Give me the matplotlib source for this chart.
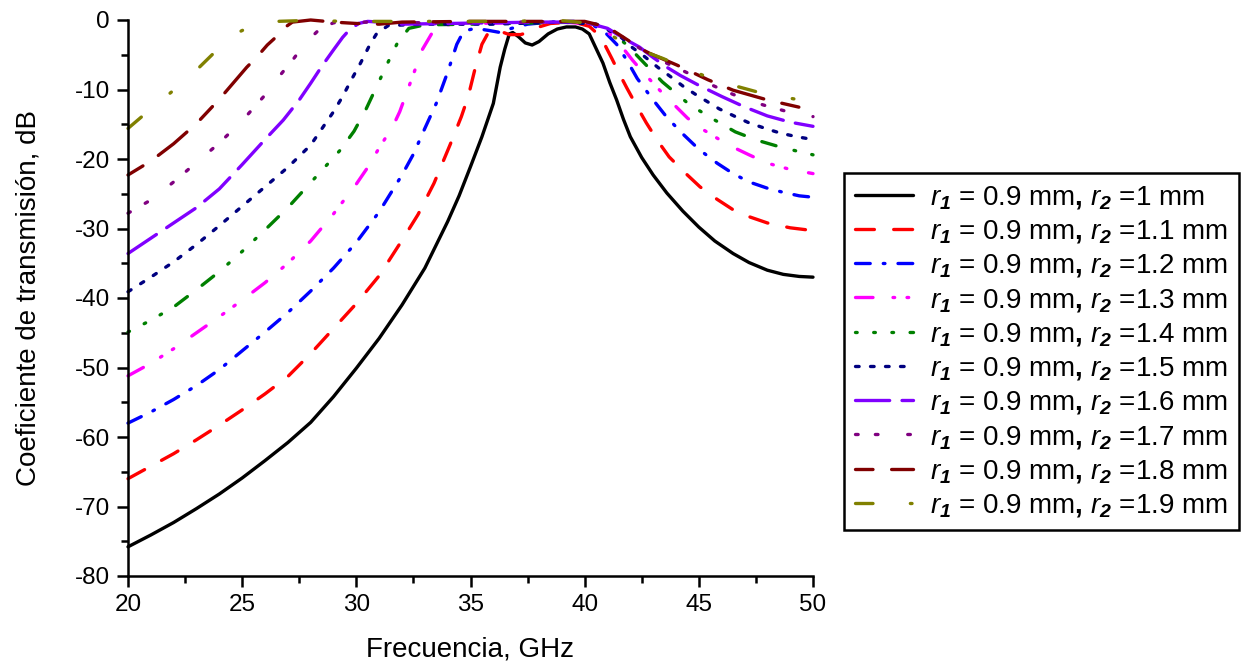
import matplotlib
matplotlib.use("Agg")
import matplotlib.pyplot as plt
from matplotlib.ticker import MultipleLocator

plt.rcParams['font.family'] = ['Liberation Sans', 'DejaVu Sans']
plt.rcParams['mathtext.fontset'] = 'custom'
plt.rcParams['mathtext.rm'] = 'Liberation Sans'
plt.rcParams['mathtext.it'] = 'Liberation Sans:italic'
plt.rcParams['mathtext.bf'] = 'Liberation Sans:bold'
plt.rcParams['mathtext.bfit'] = 'Liberation Sans:bold:italic'
plt.rcParams['axes.unicode_minus'] = False
plt.rcParams['lines.scale_dashes'] = False

# Transmission curves, one per r2 value (r1 = 0.9 mm)
r2_values = ["1", "1.1", "1.2", "1.3", "1.4", "1.5", "1.6", "1.7", "1.8", "1.9"]

f_r2_10 = [20, 21, 22, 23, 24, 25, 26, 27, 28, 29, 30, 31, 32, 33, 34, 34.5, 35, 35.5, 36,
           36.3, 36.5, 36.7, 36.85, 37.1, 37.4, 37.7, 38.0, 38.4, 38.8, 39.2, 39.6, 39.9, 40.2, 40.4,
           40.6, 40.8, 41.1, 41.4, 41.7, 42, 42.5, 43, 43.6, 44.3, 45, 45.7, 46.5, 47.2, 48, 48.7, 49.4, 50]
s_r2_10 = [-75.8, -74.1, -72.3, -70.3, -68.2, -65.9, -63.4, -60.8, -57.9, -54.2, -50.1, -45.8,
           -41.0, -35.7, -29.0, -25.3, -21.1, -16.8, -12.0, -6.8, -4.2, -2.0, -1.8, -2.4, -3.3,
           -3.6, -3.1, -2.0, -1.3, -1.0, -1.0, -1.3, -2.0, -3.4, -4.8, -6.2, -9.0, -11.5, -14.3, -16.8,
           -19.8, -22.3, -24.9, -27.5, -29.8, -31.8, -33.6, -34.9, -36.0, -36.6, -36.9, -37.0]

f_r2_11 = [20, 21, 22, 23, 24, 25, 26, 27, 28, 29, 30, 31, 32, 32.7, 33.4, 34.1, 34.6, 34.9, 35.2, 35.5,
           35.8, 36.2, 36.7, 37.2, 37.6, 38.0, 38.5, 39.5, 40.2, 40.7, 41.2, 41.5, 41.85, 42.3, 42.7,
           43.2, 43.7, 44.4, 45.05, 45.8, 46.5, 47.2, 48, 49, 50]
s_r2_11 = [-66.0, -64.2, -62.4, -60.4, -58.3, -56.1, -53.8, -51.3, -48.0, -44.4, -40.8, -36.8, -31.7,
           -28.0, -23.5, -18.0, -13.9, -11.0, -7.0, -3.5, -1.7, -1.5, -2.1, -2.1, -1.7, -1.0, -0.5,
           -0.3, -0.9, -2.4, -5.6, -7.6, -9.8, -12.5, -14.8, -17.4, -19.7, -22.0, -24.0, -25.8, -27.3,
           -28.3, -29.2, -29.9, -30.3]

f_r2_12 = [20, 21, 22, 23, 24, 25, 26, 27, 28, 29, 30, 31, 32, 32.5, 33, 33.5, 34, 34.4, 34.7, 35.2, 35.8,
           36.3, 36.8, 37.5, 38.5, 39.5, 40.3, 40.9, 41.4, 41.85, 42.3, 42.95, 43.6, 44.3, 45, 45.8,
           46.5, 47.2, 48, 48.7, 49.4, 50]
s_r2_12 = [-58.0, -56.4, -54.6, -52.6, -50.3, -47.6, -44.9, -42.1, -39.0, -35.7, -32.0, -27.6, -22.3,
           -19.3, -15.6, -12.0, -7.5, -3.5, -1.6, -1.2, -1.5, -1.8, -1.2, -0.6, -0.3, -0.2, -0.6, -1.8,
           -3.5, -5.8, -8.4, -11.3, -14.0, -16.4, -18.6, -20.6, -22.1, -23.3, -24.2, -24.8, -25.3, -25.5]

f_r2_13 = [20, 21, 22, 23, 24, 25, 26, 27, 28, 29, 30, 30.5, 31, 31.6, 31.9, 32.2, 32.5, 32.9, 33.4,
           33.9, 35, 37, 39, 40.5, 41.1, 41.5, 42.1, 42.55, 43.4, 44.5, 45.05, 45.8, 46.5, 47.2, 48,
           49, 50]
s_r2_13 = [-51.2, -49.4, -47.3, -45.0, -42.7, -40.3, -37.8, -35.0, -31.8, -27.9, -23.6, -21.2, -18.4,
           -15.3, -13.2, -10.5, -7.8, -4.2, -1.4, -0.7, -0.5, -0.4, -0.3, -0.6, -2.0, -3.3, -5.8, -7.5,
           -10.5, -14.1, -15.5, -17.0, -18.3, -19.4, -20.6, -21.5, -22.1]

f_r2_14 = [20, 21, 22, 23, 24, 25, 26, 27, 28, 29, 29.3, 29.9, 30.4, 31, 31.4, 31.8, 32.3, 33, 35, 38,
           40, 41, 41.85, 42.55, 43.4, 44.6, 45.7, 46.6, 47.55, 48.7, 50]
s_r2_14 = [-44.9, -43.2, -41.3, -38.8, -36.2, -33.3, -30.2, -27.0, -23.4, -19.8, -18.7, -16.0, -13.0,
           -8.8, -6.0, -3.3, -1.2, -0.7, -0.6, -0.4, -0.3, -1.2, -3.6, -6.0, -8.9, -12.2, -14.4, -16.1,
           -17.3, -18.4, -19.4]

f_r2_15 = [20, 21, 22, 23, 24, 25, 26, 27, 28, 29, 29.4, 29.8, 30.2, 30.6, 30.9, 31.4, 33, 36, 39,
           40.5, 41.5, 42.1, 42.6, 43.2, 43.7, 44.3, 44.9, 45.9, 46.6, 47.2, 48, 48.6, 49.3, 50]
s_r2_15 = [-39.1, -37.0, -34.8, -32.3, -29.6, -26.8, -24.0, -21.2, -18.0, -13.2, -11.0, -8.5, -6.1,
           -3.5, -1.9, -0.8, -0.6, -0.6, -0.3, -0.6, -2.2, -4.0, -5.2, -6.8, -8.0, -9.5, -10.8, -12.8,
           -13.9, -14.8, -15.7, -16.3, -16.8, -17.2]

f_r2_16 = [20, 21, 22, 23, 24, 25, 26, 26.8, 27.5, 28, 28.5, 29, 29.4, 29.7, 30.1, 30.5, 31, 32, 34,
           36, 38, 40, 41, 41.85, 42.4, 43, 43.6, 44.2, 45, 46, 47, 48, 49, 50]
s_r2_16 = [-33.6, -31.4, -29.2, -27.0, -24.3, -20.8, -17.2, -14.4, -11.5, -9.1, -6.6, -4.3, -2.5, -1.4,
           -0.5, -0.2, -0.3, -0.6, -0.5, -0.4, -0.3, -0.3, -1.2, -2.9, -3.9, -5.4, -6.8, -8.0, -9.4,
           -11.0, -12.5, -13.8, -14.7, -15.3]

f_r2_17 = [20, 21, 22, 23, 24, 25, 26, 26.5, 27.2, 27.8, 28.4, 29, 30, 33, 36, 40, 41, 42, 43, 44.5,
           45.2, 46.2, 47.1, 48, 48.9, 50]
s_r2_17 = [-27.8, -25.9, -23.3, -20.5, -17.7, -14.5, -10.8, -8.6, -5.8, -3.2, -1.3, -0.4, -0.3, -0.4,
           -0.3, -0.3, -1.0, -3.2, -5.3, -7.6, -8.8, -10.3, -11.5, -12.4, -13.2, -13.9]

f_r2_18 = [20, 21, 22, 23, 24, 24.6, 25.2, 25.65, 26.1, 26.5, 26.9, 27.2, 28, 29, 30, 31, 32, 35, 38,
           40, 41, 42.55, 42.85, 44.05, 45.4, 46.5, 48, 49.6, 50]
s_r2_18 = [-22.3, -20.3, -17.8, -14.9, -11.4, -9.1, -6.8, -5.3, -3.6, -2.4, -1.0, -0.3, 0.0, -0.3,
           -0.5, -0.6, -0.3, -0.2, -0.2, -0.2, -1.0, -4.3, -4.8, -6.5, -8.6, -10.1, -11.5, -12.7, -12.9]

f_r2_19 = [20, 21, 22, 23, 23.9, 24.7, 25.5, 26.5, 27.5, 30, 33, 36, 39, 40, 40.7, 41.7, 42.5, 43.4,
           44.5, 45.5, 46.5, 47.5, 48.7, 50]
s_r2_19 = [-15.6, -12.8, -10.1, -7.2, -4.3, -2.0, -0.7, -0.2, -0.1, -0.2, -0.2, -0.2, -0.1, -0.4, -1.4,
           -3.2, -4.4, -5.5, -7.0, -8.4, -9.4, -10.3, -11.1, -11.8]

freqs = [f_r2_10, f_r2_11, f_r2_12, f_r2_13, f_r2_14, f_r2_15, f_r2_16, f_r2_17, f_r2_18, f_r2_19]
s21 = [s_r2_10, s_r2_11, s_r2_12, s_r2_13, s_r2_14, s_r2_15, s_r2_16, s_r2_17, s_r2_18, s_r2_19]

colors = ['#000000', '#ff0000', '#0000ff', '#ff00ff', '#008000',
          '#000080', '#8000ff', '#800080', '#800000', '#808000']

LW = 2.4


def pattern(*seq):
    """Dash pattern in points, corrected for round caps."""
    out = []
    for i, v in enumerate(seq):
        if i % 2 == 0:
            out.append(max(v - LW, 0.1))
        else:
            out.append(v + LW)
    return (0, tuple(out))


styles = [
    '-',
    pattern(16, 11.5),
    pattern(13, 7, 3.6, 7),
    pattern(15, 12, 3.6, 6.5, 3.6, 13.5),
    pattern(3.6, 9.5, 3.6, 9.5, 3.6, 9.5, 13, 11, 13, 11),
    pattern(5, 5.8),
    pattern(27, 6.5),
    pattern(4.3, 10, 4.3, 19),
    pattern(15, 11, 29, 11),
    pattern(15, 24.5, 3.6, 25),
]

fig = plt.figure(figsize=(12.58, 6.63), dpi=100)
ax = fig.add_axes([128 / 1258, 1 - 576 / 663, 685 / 1258, 556 / 663])

for f, s, c, ls, r2 in zip(freqs, s21, colors, styles, r2_values):
    label = (r'$\mathit{r}_{\mathbfit{1}}$ = 0.9 mm$\mathbf{,}$ '
             r'$\mathit{r}_{\mathbfit{2}}$ =' + r2 + ' mm')
    ax.plot(f, s, color=c, linestyle=ls, linewidth=LW, label=label,
            dash_capstyle='round', solid_capstyle='round', solid_joinstyle='round',
            clip_on=False)

ax.set_xlim(20, 50)
ax.set_ylim(-80, 0)
ax.xaxis.set_major_locator(MultipleLocator(5))
ax.xaxis.set_minor_locator(MultipleLocator(2.5))
ax.yaxis.set_major_locator(MultipleLocator(10))
ax.yaxis.set_minor_locator(MultipleLocator(5))

for side in ('top', 'right'):
    ax.spines[side].set_visible(False)
for side in ('left', 'bottom'):
    ax.spines[side].set_linewidth(1.8)

ax.tick_params(which='major', direction='out', length=8, width=1.8, labelsize=17.5, pad=5)
ax.tick_params(which='minor', direction='out', length=5, width=1.8)

ax.set_xlabel('Frecuencia, GHz', fontsize=20, labelpad=15)
ax.set_ylabel('Coeficiente de transmisión, dB', fontsize=20, labelpad=24)

leg = fig.legend(loc='center left', bbox_to_anchor=(844 / 1258, 1 - 351.5 / 663),
                 fontsize=20, frameon=True, fancybox=False, handlelength=2.1,
                 handletextpad=0.6, labelspacing=0.26, borderpad=0.4,
                 borderaxespad=0)
leg.get_frame().set_edgecolor('black')
leg.get_frame().set_linewidth(1.8)
leg.get_frame().set_alpha(1)

fig.savefig('out.png', dpi=100)
